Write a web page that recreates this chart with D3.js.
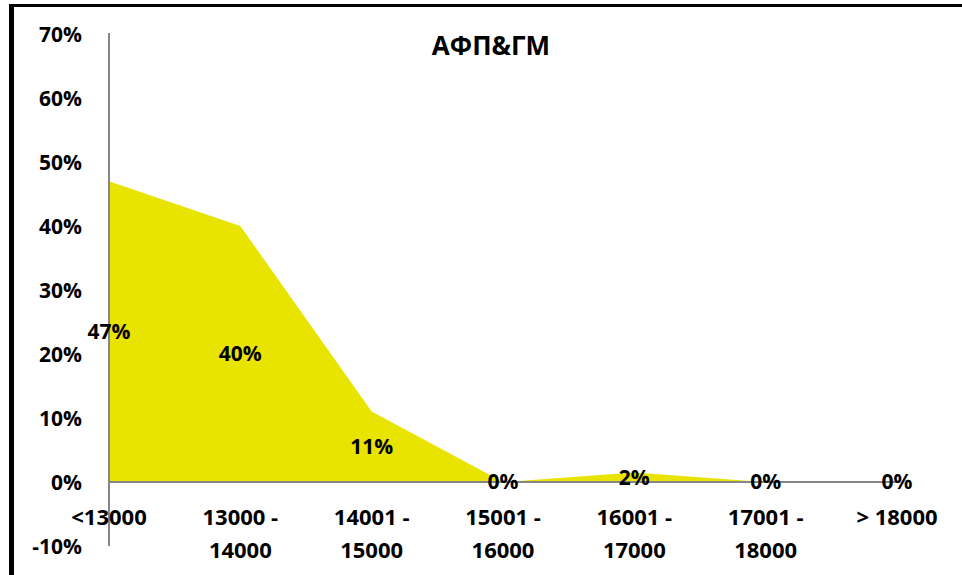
<!DOCTYPE html>
<html>
<head>
<meta charset="utf-8">
<script src="https://cdn.jsdelivr.net/npm/d3@7"></script>
<style>
  body { margin: 0; background: #fff; }
  text { font-family: "Open Sans", "Noto Sans", sans-serif; font-weight: bold; fill: #000; }
</style>
</head>
<body>
<svg id="chart"></svg>
<script>
// Data
const categories = ["<13000", "13000 - 14000", "14001 - 15000", "15001 - 16000", "16001 - 17000", "17001 - 18000", "> 18000"];
const shares = [0.47, 0.40, 0.11, 0.0, 0.015, 0.0, 0.0];
const yTicks = [-0.1, 0, 0.1, 0.2, 0.3, 0.4, 0.5, 0.6, 0.7];
const title = "АФП&ГМ";

const width = 962;
const height = 575;

// Percent format with a plain hyphen for negatives
const pct = (d) => Math.round(d * 100) + "%";

const svg = d3.select("#chart")
  .attr("width", width)
  .attr("height", height);

// Frame (only top and left edges are visible)
svg.append("line")
  .attr("x1", 9).attr("x2", width)
  .attr("y1", 5.5).attr("y2", 5.5)
  .attr("stroke", "#000").attr("stroke-width", 3);
svg.append("line")
  .attr("x1", 11.5).attr("x2", 11.5)
  .attr("y1", 4).attr("y2", height)
  .attr("stroke", "#000").attr("stroke-width", 5);

// Scales
const x = d3.scalePoint()
  .domain(categories)
  .range([109, 897]);
const y = d3.scaleLinear()
  .domain([-0.1, 0.7])
  .range([546, 34]);

// Area
const area = d3.area()
  .x((d, i) => x(categories[i]))
  .y0(y(0))
  .y1((d) => y(d));

svg.append("path")
  .datum(shares)
  .attr("d", area)
  .attr("fill", "#E9E300");

// X axis line at 0
svg.append("line")
  .attr("x1", x.range()[0]).attr("x2", x.range()[1])
  .attr("y1", y(0)).attr("y2", y(0))
  .attr("stroke", "#868686").attr("stroke-width", 2);

// Y axis
const yAxis = d3.axisLeft(y)
  .tickValues(yTicks)
  .tickFormat(pct)
  .tickSize(0)
  .tickPadding(27);

const gy = svg.append("g")
  .attr("transform", `translate(${x.range()[0]}, 0)`)
  .call(yAxis);
gy.select(".domain")
  .attr("stroke", "#868686")
  .attr("stroke-width", 2)
  .attr("d", `M0,${y(0.7) - 1}V${y(-0.1)}`);
gy.selectAll("text")
  .attr("font-size", 21)
  .attr("font-family", null)
  .attr("dy", "0.35em");

// X category labels (two lines)
const xl = svg.append("g")
  .selectAll("text")
  .data(categories)
  .enter()
  .append("text")
  .attr("text-anchor", "middle")
  .attr("font-size", 22)
  .attr("x", (d) => x(d))
  .attr("y", 525);
xl.each(function (d) {
  const parts = d.match(/^(\d+ -) (\d+)$/);
  const lines = parts ? [parts[1], parts[2]] : [d];
  d3.select(this).selectAll("tspan")
    .data(lines)
    .enter()
    .append("tspan")
    .attr("x", x(d))
    .attr("dy", (l, i) => i === 0 ? 0 : 33)
    .text((l) => l);
});

// Data labels (middle of each area column)
svg.append("g")
  .selectAll("text")
  .data(shares)
  .enter()
  .append("text")
  .attr("text-anchor", "middle")
  .attr("font-size", 21)
  .attr("x", (d, i) => x(categories[i]))
  .attr("y", (d) => y(d / 2))
  .attr("dy", "0.35em")
  .text(pct);

// Title
svg.append("text")
  .attr("text-anchor", "middle")
  .attr("font-size", 26)
  .attr("x", 491)
  .attr("y", 46)
  .attr("dy", "0.35em")
  .text(title);
</script>
</body>
</html>
